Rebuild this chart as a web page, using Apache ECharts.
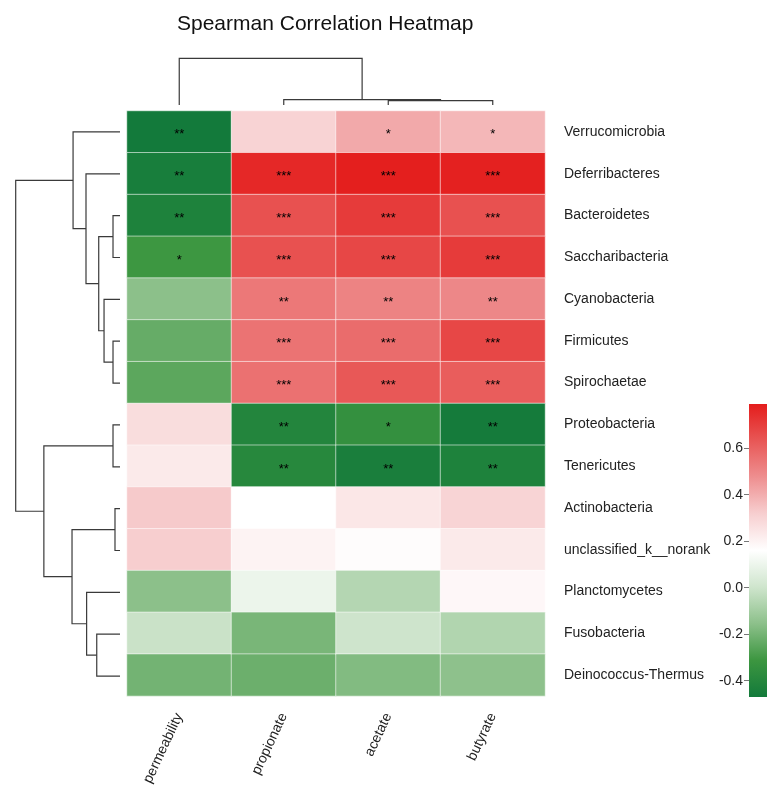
<!DOCTYPE html>
<html>
<head>
<meta charset="utf-8">
<script src="https://cdn.jsdelivr.net/npm/echarts@6/dist/echarts.min.js"></script>
<style>
  html, body { margin: 0; padding: 0; background: #ffffff; }
  #chart { width: 767px; height: 788px; }
</style>
</head>
<body>
<div id="chart"></div>
<script>
// Phyla (rows, top to bottom, in clustered order)
const taxa = [
  'Verrucomicrobia', 'Deferribacteres', 'Bacteroidetes', 'Saccharibacteria',
  'Cyanobacteria', 'Firmicutes', 'Spirochaetae', 'Proteobacteria',
  'Tenericutes', 'Actinobacteria', 'unclassified_k__norank', 'Planctomycetes',
  'Fusobacteria', 'Deinococcus-Thermus'
];

// Environmental factors (columns, in clustered order)
const factors = ['permeability', 'propionate', 'acetate', 'butyrate'];

// Spearman correlation coefficients, one array per factor (row order as taxa)
const permeability = [-0.47, -0.45, -0.426, -0.31, -0.155, -0.23, -0.25, 0.273, 0.23, 0.33, 0.32, -0.155, -0.01, -0.205];
const propionate   = [0.305, 0.76, 0.65, 0.65, 0.54, 0.554, 0.56, -0.407, -0.394, 0.16, 0.20, 0.097, -0.193, -0.218];
const acetate      = [0.41, 0.785, 0.708, 0.675, 0.51, 0.573, 0.63, -0.344, -0.445, 0.24, 0.17, -0.06, 0.0, -0.174];
const butyrate     = [0.377, 0.78, 0.65, 0.708, 0.497, 0.677, 0.615, -0.464, -0.426, 0.30, 0.23, 0.185, -0.067, -0.15];

// Significance marks (* p<0.05, ** p<0.01, *** p<0.001)
const sigPermeability = ['**', '**', '**', '*', '', '', '', '', '', '', '', '', '', ''];
const sigPropionate   = ['', '***', '***', '***', '**', '***', '***', '**', '**', '', '', '', '', ''];
const sigAcetate      = ['*', '***', '***', '***', '**', '***', '***', '*', '**', '', '', '', '', ''];
const sigButyrate     = ['*', '***', '***', '***', '**', '***', '***', '**', '**', '', '', '', '', ''];

// Hierarchical clustering merges: [childA, childB, height]; ids >= n refer to earlier merges
const rowMerges = [
  [2, 3, 0.067], [5, 6, 0.067], [7, 8, 0.067], [9, 10, 0.048],
  [4, 15, 0.153], [12, 13, 0.223], [14, 18, 0.204], [11, 19, 0.32],
  [1, 20, 0.326], [0, 22, 0.45], [17, 21, 0.46], [16, 24, 0.73], [23, 25, 1.0]
];
const colMerges = [[2, 3, 0.092], [1, 4, 0.113], [0, 5, 1.0]];

// Colour scale
const scaleMin = -0.47;
const scaleMax = 0.79;
const colorbarTicks = [-0.4, -0.2, 0.0, 0.2, 0.4, 0.6];
const scaleColors = [
  '#137a3b', '#3c9640', '#8cc08a', '#cfe5cd', '#ffffff',
  '#f7cfd0', '#ee8f90', '#e85756', '#e41d1c'
];

const valueColumns = [permeability, propionate, acetate, butyrate];
const sigColumns = [sigPermeability, sigPropionate, sigAcetate, sigButyrate];

const heatData = [];
valueColumns.forEach((col, c) => {
  col.forEach((v, r) => heatData.push([c, r, v, sigColumns[c][r]]));
});

function layoutTree(n, merges) {
  const pos = [], height = [];
  for (let i = 0; i < n; i++) { pos[i] = i; height[i] = 0; }
  merges.forEach(([a, b, h], k) => {
    pos[n + k] = (pos[a] + pos[b]) / 2;
    height[n + k] = h;
  });
  return { pos, height };
}
const rowTree = layoutTree(taxa.length, rowMerges);
const colTree = layoutTree(factors.length, colMerges);

const lineStyle = { stroke: '#3a3a3a', lineWidth: 1.2, fill: null };

const chart = echarts.init(document.getElementById('chart'), null, { renderer: 'canvas' });

const textFont = 'Liberation Sans, Arial, Helvetica, sans-serif';

chart.setOption({
  backgroundColor: '#ffffff',
  animation: false,
  title: {
    text: 'Spearman Correlation Heatmap',
    left: 172,
    top: 9,
    textStyle: { fontSize: 21, fontWeight: 'normal', color: '#111', fontFamily: textFont }
  },
  grid: [
    { left: 127, top: 111, width: 418, height: 586 },       // heatmap
    { left: 15.7, top: 111, width: 104.3, height: 586 },    // row dendrogram
    { left: 127, top: 58.3, width: 418, height: 46.7 },     // column dendrogram
    { left: 749, top: 404, width: 20, height: 293 }         // colour bar
  ],
  xAxis: [
    {
      gridIndex: 0, type: 'category', data: factors, position: 'bottom',
      axisLine: { show: false }, axisTick: { show: false }, splitLine: { show: false },
      axisLabel: { rotate: 65, margin: 18, fontSize: 14, color: '#222', fontFamily: textFont, interval: 0 }
    },
    { gridIndex: 1, type: 'value', min: 0, max: 1, inverse: true, show: false },
    { gridIndex: 2, type: 'value', min: -0.5, max: factors.length - 0.5, show: false },
    { gridIndex: 3, type: 'value', min: 0, max: 1, show: false }
  ],
  yAxis: [
    {
      gridIndex: 0, type: 'category', data: taxa, inverse: true, position: 'right',
      axisLine: { show: false }, axisTick: { show: false }, splitLine: { show: false },
      axisLabel: { margin: 19, fontSize: 14, color: '#222', fontFamily: textFont, align: 'left', interval: 0 }
    },
    { gridIndex: 1, type: 'value', min: -0.5, max: taxa.length - 0.5, inverse: true, show: false },
    { gridIndex: 2, type: 'value', min: 0, max: 1, show: false },
    {
      gridIndex: 3, type: 'value', min: scaleMin, max: scaleMax, position: 'left',
      axisLine: { show: false },
      splitLine: { show: false },
      axisTick: { show: true, length: 5, lineStyle: { color: '#777' }, customValues: colorbarTicks },
      axisLabel: {
        margin: 6, fontSize: 14, color: '#222', fontFamily: textFont,
        customValues: colorbarTicks,
        formatter: v => v.toFixed(1)
      }
    }
  ],
  visualMap: {
    type: 'continuous',
    show: false,
    min: scaleMin,
    max: scaleMax,
    dimension: 2,
    seriesIndex: 0,
    inRange: { color: scaleColors }
  },
  series: [
    {
      type: 'heatmap',
      xAxisIndex: 0, yAxisIndex: 0,
      data: heatData,
      itemStyle: { borderColor: 'rgba(255,255,255,0.55)', borderWidth: 1 },
      label: {
        show: true,
        formatter: p => p.data[3],
        color: '#000',
        fontSize: 13,
        offset: [0, 3],
        fontFamily: textFont
      },
      emphasis: { disabled: true }
    },
    {
      type: 'custom',
      xAxisIndex: 1, yAxisIndex: 1,
      data: rowMerges.map(m => [m[2], 0]),
      clip: false,
      renderItem: (params, api) => {
        const [a, b, h] = rowMerges[params.dataIndex];
        const pts = [
          [rowTree.height[a], rowTree.pos[a]],
          [h, rowTree.pos[a]],
          [h, rowTree.pos[b]],
          [rowTree.height[b], rowTree.pos[b]]
        ].map(p => api.coord(p));
        return { type: 'polyline', shape: { points: pts }, style: lineStyle };
      }
    },
    {
      type: 'custom',
      xAxisIndex: 2, yAxisIndex: 2,
      data: colMerges.map(m => [0, m[2]]),
      clip: false,
      renderItem: (params, api) => {
        const [a, b, h] = colMerges[params.dataIndex];
        const pts = [
          [colTree.pos[a], colTree.height[a]],
          [colTree.pos[a], h],
          [colTree.pos[b], h],
          [colTree.pos[b], colTree.height[b]]
        ].map(p => api.coord(p));
        return { type: 'polyline', shape: { points: pts }, style: lineStyle };
      }
    },
    {
      type: 'custom',
      xAxisIndex: 3, yAxisIndex: 3,
      data: [[0, scaleMin], [1, scaleMax]],
      clip: false,
      renderItem: (params, api) => {
        if (params.dataIndex !== 0) return null;
        const topLeft = api.coord([0, scaleMax]);
        const bottomRight = api.coord([1, scaleMin]);
        const stops = scaleColors.map((c, i) => ({ offset: i / (scaleColors.length - 1), color: c }));
        return {
          type: 'rect',
          shape: {
            x: topLeft[0], y: topLeft[1],
            width: bottomRight[0] - topLeft[0],
            height: bottomRight[1] - topLeft[1]
          },
          style: { fill: new echarts.graphic.LinearGradient(0, 1, 0, 0, stops) }
        };
      }
    }
  ]
});
</script>
</body>
</html>
